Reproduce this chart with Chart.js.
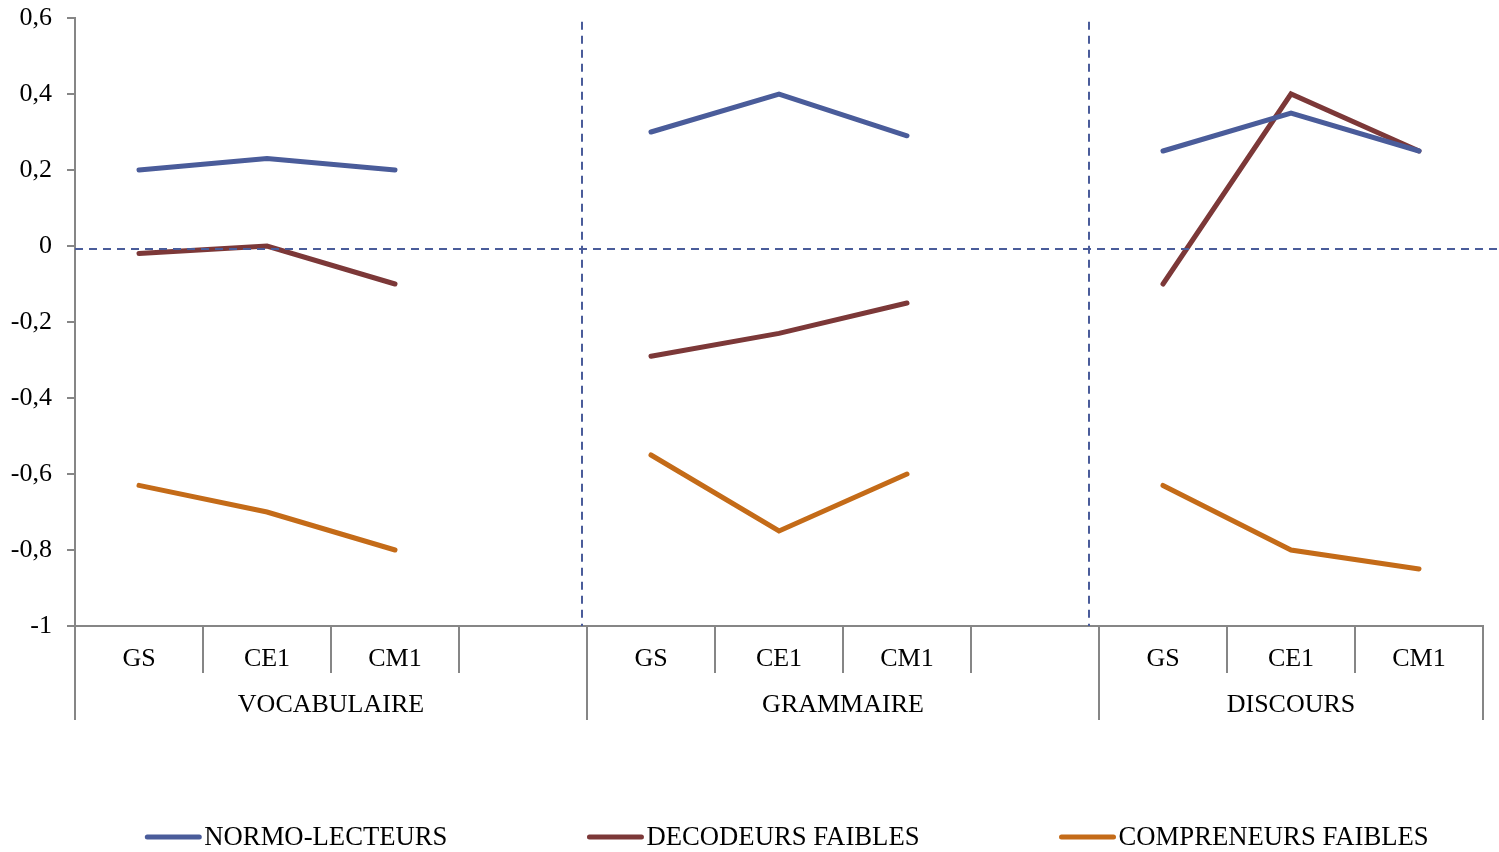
<!DOCTYPE html>
<html>
<head>
<meta charset="utf-8">
<script src="https://cdn.jsdelivr.net/npm/chart.js@4.4.1/dist/chart.umd.min.js"></script>
<style>
  html, body { margin: 0; padding: 0; background: #ffffff; }
  #wrap { position: relative; width: 1499px; height: 852px; }
</style>
</head>
<body>
<div id="wrap"><canvas id="chart" width="1499" height="852"></canvas></div>
<script>
// Category axis: three skills, each measured at three school levels, with an empty slot between skills
const groupNames = ['VOCABULAIRE', 'GRAMMAIRE', 'DISCOURS'];
const groupRanges = [[0, 3], [4, 7], [8, 10]];
const categories = ['GS', 'CE1', 'CM1', '', 'GS', 'CE1', 'CM1', '', 'GS', 'CE1', 'CM1'];

// Mean scores per reader profile
const normoLecteurs      = [0.20, 0.23, 0.20, null, 0.30, 0.40, 0.29, null, 0.25, 0.35, 0.25];
const decodeursFaibles   = [-0.02, 0.00, -0.10, null, -0.29, -0.23, -0.15, null, -0.10, 0.40, 0.25];
const compreneursFaibles = [-0.63, -0.70, -0.80, null, -0.55, -0.75, -0.60, null, -0.63, -0.80, -0.85];

const seriesNames = ['NORMO-LECTEURS', 'DECODEURS FAIBLES', 'COMPRENEURS FAIBLES'];
const seriesColors = ['#4a5c9a', '#7c3838', '#c46b18'];

// Value axis ticks
const yTicks = [-1, -0.8, -0.6, -0.4, -0.2, 0, 0.2, 0.4, 0.6];

// Dashed reference guides (value level, and category positions of the skill dividers)
const refLevel = -0.008;
const dividerPositions = [3.46, 7.42];
const dividerTop = 0.59;

const FONT = "'Liberation Serif', 'Times New Roman', serif";
const AXIS_GREY = '#868686';
const GUIDE_BLUE = '#4a5c9a';

function fmt(v) {
  return String(Number(v.toFixed(1))).replace('.', ',');
}

const decorations = {
  id: 'decorations',
  afterDraw(chart) {
    const ctx = chart.ctx;
    const xs = chart.scales.x;
    const area = chart.chartArea;
    const half = (xs.getPixelForValue(1) - xs.getPixelForValue(0)) / 2;
    const left = i => xs.getPixelForValue(i) - half;
    const right = i => xs.getPixelForValue(i) + half;
    const rowMid = area.bottom + 47;
    const rowEnd = area.bottom + 94;

    ctx.save();
    ctx.strokeStyle = AXIS_GREY;
    ctx.lineWidth = 2;
    ctx.beginPath();
    // separators between level labels
    for (let i = 0; i < categories.length - 1; i++) {
      const x = Math.round(right(i));
      ctx.moveTo(x, area.bottom);
      ctx.lineTo(x, rowMid);
    }
    // longer separators around each skill group
    const bounds = new Set();
    groupRanges.forEach(([a, b]) => { bounds.add(Math.round(left(a))); bounds.add(Math.round(right(b))); });
    bounds.forEach(x => { ctx.moveTo(x, area.bottom); ctx.lineTo(x, rowEnd); });
    ctx.stroke();

    // skill group labels
    ctx.fillStyle = '#000000';
    ctx.font = '26px ' + FONT;
    ctx.textAlign = 'center';
    ctx.textBaseline = 'middle';
    groupRanges.forEach(([a, b], gi) => {
      ctx.fillText(groupNames[gi], (left(a) + right(b)) / 2, area.bottom + 79);
    });

    // legend
    ctx.font = '26.7px ' + FONT;
    const sample = 56, gapText = 3, gapItem = 140;
    const widths = seriesNames.map(n => sample + gapText + ctx.measureText(n).width);
    const total = widths.reduce((s, w) => s + w, 0) + gapItem * (seriesNames.length - 1);
    let x = (area.left + area.right) / 2 + 8 - total / 2;
    const ly = chart.height - 15;
    ctx.textAlign = 'left';
    seriesNames.forEach((n, i) => {
      ctx.strokeStyle = seriesColors[i];
      ctx.lineWidth = 5;
      ctx.lineCap = 'round';
      ctx.beginPath();
      ctx.moveTo(x + 2, ly);
      ctx.lineTo(x + sample - 2, ly);
      ctx.stroke();
      ctx.fillText(n, x + sample + gapText, ly + 1);
      x += widths[i] + gapItem;
    });
    ctx.restore();
  },
  afterDatasetsDraw(chart) {
    const ctx = chart.ctx;
    const xs = chart.scales.x;
    const ys = chart.scales.y;
    const area = chart.chartArea;
    ctx.save();
    ctx.strokeStyle = GUIDE_BLUE;
    ctx.lineWidth = 2;
    ctx.setLineDash([8, 6]);
    ctx.beginPath();
    const y0 = Math.round(ys.getPixelForValue(refLevel));
    ctx.moveTo(area.left, y0);
    ctx.lineTo(chart.width, y0);
    const yt = ys.getPixelForValue(dividerTop);
    dividerPositions.forEach(p => {
      const x = Math.round(xs.getPixelForValue(p));
      ctx.moveTo(x, yt);
      ctx.lineTo(x, area.bottom);
    });
    ctx.stroke();
    ctx.restore();
  }
};

const seriesData = [normoLecteurs, decodeursFaibles, compreneursFaibles];

new Chart(document.getElementById('chart'), {
  type: 'line',
  data: {
    labels: categories,
    datasets: seriesData.map((d, i) => ({
      label: seriesNames[i],
      data: d,
      borderColor: seriesColors[i],
      backgroundColor: seriesColors[i],
      borderWidth: 5,
      borderCapStyle: 'round',
      borderJoinStyle: 'miter',
      pointRadius: 0,
      pointHoverRadius: 0,
      tension: 0,
      spanGaps: false
    }))
  },
  options: {
    responsive: false,
    animation: false,
    events: [],
    layout: { padding: { left: 0, top: 18, right: 16, bottom: 0 } },
    plugins: {
      legend: { display: false },
      tooltip: { enabled: false }
    },
    scales: {
      x: {
        type: 'category',
        offset: true,
        grid: { display: false },
        border: { display: true, color: AXIS_GREY, width: 2 },
        ticks: {
          color: '#000000',
          font: { family: FONT, size: 26 },
          padding: 10,
          maxRotation: 0,
          autoSkip: false
        },
        afterFit(scale) { scale.height = 226; }
      },
      y: {
        min: -1,
        max: 0.6,
        afterBuildTicks(scale) { scale.ticks = yTicks.map(v => ({ value: v })); },
        grid: {
          display: true,
          drawOnChartArea: false,
          drawTicks: true,
          tickLength: 8,
          color: AXIS_GREY,
          lineWidth: 2
        },
        border: { display: true, color: AXIS_GREY, width: 2 },
        ticks: {
          color: '#000000',
          font: { family: FONT, size: 26 },
          padding: 15,
          callback: v => fmt(v)
        },
        afterFit(scale) {
          scale.width = 75;
          scale.paddingTop = 0;
          scale.paddingBottom = 0;
        }
      }
    }
  },
  plugins: [decorations]
});
</script>
</body>
</html>
